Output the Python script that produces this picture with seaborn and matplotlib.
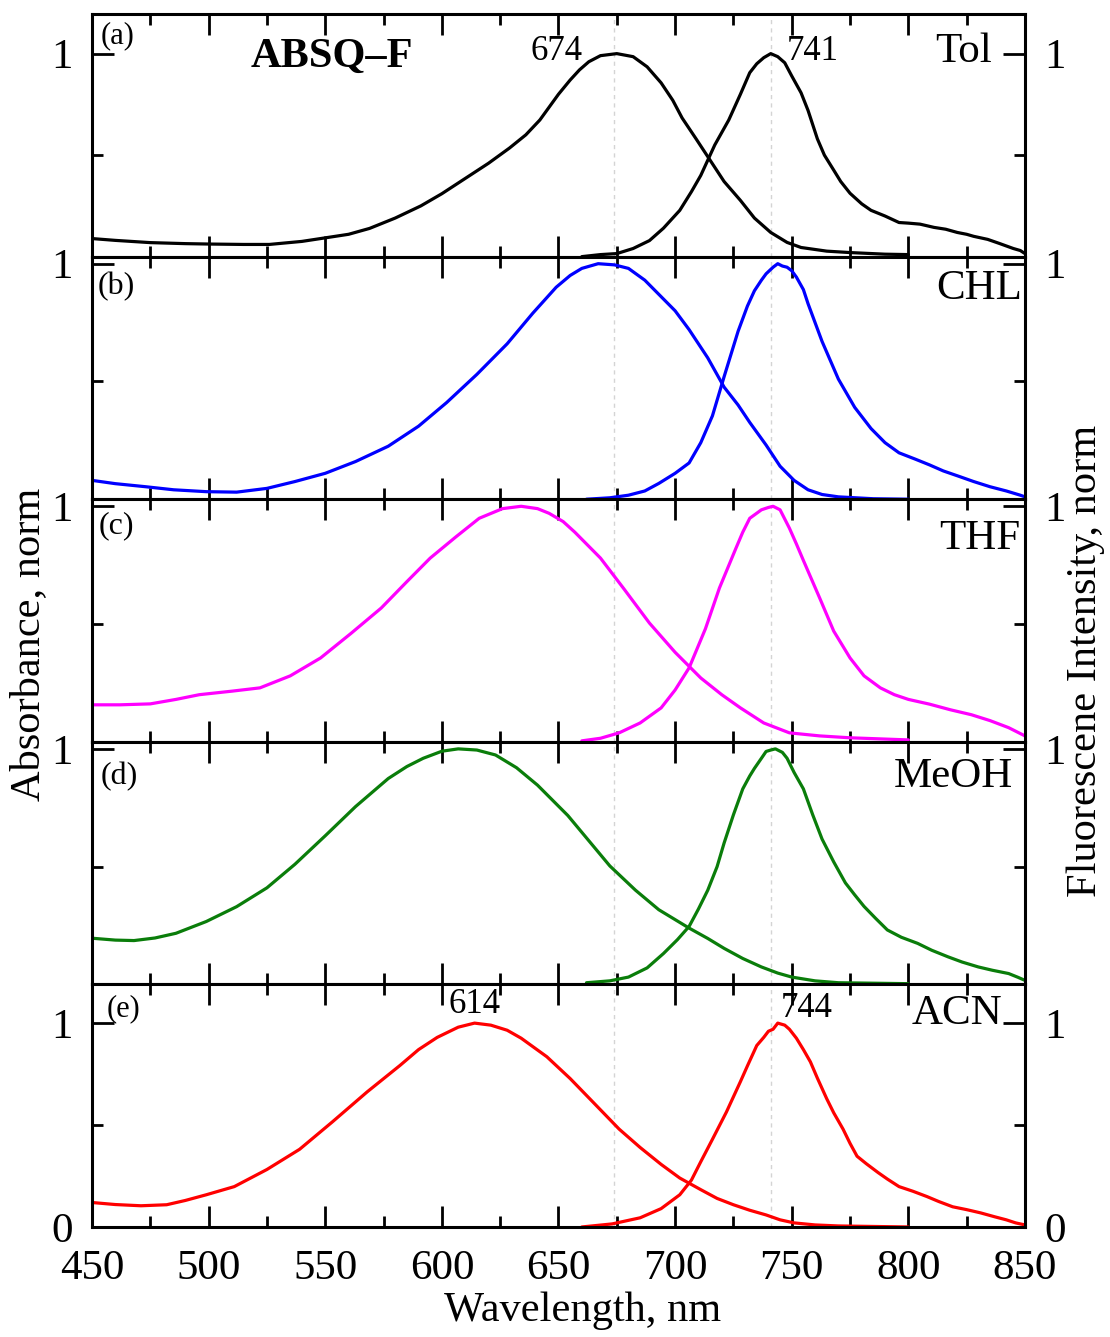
import matplotlib
matplotlib.use("Agg")
import matplotlib.pyplot as plt
from matplotlib.ticker import MultipleLocator, FixedLocator
import seaborn as sns
import pandas as pd

# ---- spectra (wavelength in nm, normalised intensity) ----
tol_abs_nm = [450, 460, 475, 490, 500, 515, 526, 540, 548, 560, 569, 580, 591, 600, 612, 620, 629, 636, 642, 650, 655, 659, 663, 668, 675, 682, 688, 694, 699, 703, 709, 715, 721, 728, 734, 741, 748, 754, 765, 775, 790, 800]
tol_abs = [0.089, 0.08, 0.069, 0.064, 0.062, 0.06, 0.06, 0.075, 0.089, 0.11, 0.139, 0.19, 0.25, 0.31, 0.40, 0.46, 0.535, 0.60, 0.673, 0.80, 0.87, 0.92, 0.96, 0.99, 1.0, 0.985, 0.935, 0.856, 0.77, 0.683, 0.58, 0.475, 0.37, 0.277, 0.19, 0.119, 0.07, 0.045, 0.027, 0.02, 0.012, 0.01]
tol_fl_nm = [660, 668, 675, 682, 689, 695, 702, 707, 711, 717, 723, 728, 732, 735, 738, 741, 744, 747, 750, 754, 757, 761, 764, 768, 771, 775, 780, 784, 790, 796, 800, 805, 811, 816, 821, 825, 828, 834, 839, 845, 848, 850]
tol_fl = [0.0, 0.01, 0.015, 0.04, 0.079, 0.14, 0.228, 0.32, 0.40, 0.55, 0.673, 0.80, 0.906, 0.95, 0.98, 1.0, 0.985, 0.955, 0.89, 0.807, 0.72, 0.58, 0.50, 0.426, 0.37, 0.312, 0.26, 0.228, 0.20, 0.168, 0.165, 0.16, 0.144, 0.135, 0.119, 0.11, 0.10, 0.085, 0.065, 0.04, 0.03, 0.015]

chl_abs_nm = [450, 460, 473, 485, 499, 512, 525, 537, 550, 563, 577, 590, 602, 615, 628, 639, 649, 655, 660, 667, 674, 680, 687, 693, 700, 706, 714, 721, 727, 732, 739, 745, 751, 757, 763, 770, 785, 800]
chl_abs = [0.08, 0.066, 0.053, 0.04, 0.032, 0.03, 0.046, 0.075, 0.11, 0.16, 0.225, 0.31, 0.41, 0.53, 0.66, 0.79, 0.90, 0.95, 0.98, 1.0, 0.995, 0.98, 0.93, 0.87, 0.80, 0.72, 0.60, 0.476, 0.40, 0.326, 0.23, 0.14, 0.08, 0.04, 0.02, 0.01, 0.002, 0.0]
chl_fl_nm = [662, 672, 680, 687, 693, 700, 706, 711, 716, 721, 727, 731, 734, 737, 739, 742, 744, 746, 748, 750, 752, 755, 757, 763, 770, 777, 784, 790, 796, 803, 809, 815, 822, 828, 835, 842, 848, 850]
chl_fl = [0.0, 0.006, 0.017, 0.035, 0.067, 0.11, 0.154, 0.24, 0.354, 0.52, 0.713, 0.82, 0.885, 0.93, 0.957, 0.985, 1.0, 0.99, 0.985, 0.97, 0.943, 0.89, 0.83, 0.67, 0.51, 0.39, 0.30, 0.24, 0.197, 0.17, 0.146, 0.12, 0.096, 0.075, 0.053, 0.035, 0.017, 0.01]

thf_abs_nm = [450, 462, 475, 486, 496, 510, 522, 535, 548, 561, 574, 585, 595, 606, 616, 626, 634, 641, 646, 652, 657, 668, 678, 689, 700, 711, 720, 728, 738, 749, 762, 775, 800]
thf_abs = [0.157, 0.157, 0.161, 0.18, 0.2, 0.215, 0.229, 0.28, 0.356, 0.46, 0.568, 0.68, 0.78, 0.87, 0.949, 0.99, 1.0, 0.99, 0.97, 0.935, 0.89, 0.78, 0.65, 0.504, 0.38, 0.271, 0.2, 0.144, 0.08, 0.038, 0.025, 0.017, 0.008]
thf_fl_nm = [660, 668, 676, 685, 694, 700, 706, 713, 719, 726, 729, 732, 737, 740, 742, 745, 749, 752, 755, 762, 768, 775, 781, 788, 794, 800, 809, 818, 827, 835, 843, 850]
thf_fl = [0.004, 0.015, 0.038, 0.08, 0.144, 0.22, 0.314, 0.48, 0.653, 0.82, 0.89, 0.949, 0.985, 0.995, 1.0, 0.985, 0.907, 0.84, 0.77, 0.61, 0.47, 0.356, 0.28, 0.229, 0.20, 0.18, 0.16, 0.136, 0.115, 0.09, 0.06, 0.025]

meoh_abs_nm = [450, 460, 468, 477, 486, 499, 512, 525, 537, 550, 563, 577, 585, 592, 600, 607, 615, 623, 632, 641, 654, 663, 672, 683, 693, 706, 714, 721, 729, 737, 744, 750, 760, 770, 800]
meoh_abs = [0.196, 0.188, 0.186, 0.197, 0.217, 0.267, 0.33, 0.41, 0.51, 0.631, 0.755, 0.874, 0.925, 0.96, 0.99, 1.0, 0.995, 0.974, 0.92, 0.846, 0.717, 0.61, 0.503, 0.40, 0.317, 0.239, 0.195, 0.153, 0.11, 0.074, 0.048, 0.031, 0.015, 0.007, 0.003]
meoh_fl_nm = [662, 672, 680, 688, 695, 701, 706, 710, 714, 718, 721, 725, 729, 732, 734, 737, 739, 741, 743, 746, 748, 751, 755, 759, 763, 768, 773, 777, 781, 786, 791, 797, 804, 810, 817, 823, 830, 836, 843, 847, 850]
meoh_fl = [0.007, 0.015, 0.031, 0.07, 0.131, 0.19, 0.246, 0.32, 0.40, 0.50, 0.60, 0.72, 0.83, 0.885, 0.917, 0.96, 0.989, 0.995, 1.0, 0.985, 0.96, 0.90, 0.83, 0.72, 0.617, 0.52, 0.431, 0.38, 0.331, 0.28, 0.231, 0.2, 0.174, 0.145, 0.117, 0.095, 0.074, 0.06, 0.046, 0.03, 0.017]

acn_abs_nm = [450, 460, 471, 482, 490, 499, 511, 525, 539, 553, 568, 582, 590, 598, 607, 614, 621, 628, 634, 645, 655, 665, 676, 685, 694, 702, 711, 718, 725, 732, 739, 745, 751, 760, 770, 800]
acn_abs = [0.12, 0.11, 0.104, 0.109, 0.13, 0.158, 0.198, 0.282, 0.381, 0.515, 0.663, 0.792, 0.87, 0.93, 0.98, 1.0, 0.99, 0.965, 0.926, 0.835, 0.728, 0.61, 0.48, 0.39, 0.307, 0.24, 0.183, 0.14, 0.109, 0.082, 0.059, 0.035, 0.02, 0.01, 0.005, 0.0]
acn_fl_nm = [660, 673, 685, 694, 702, 707, 711, 716, 722, 728, 731, 735, 738, 740, 742, 744, 747, 749, 752, 755, 758, 761, 765, 768, 772, 775, 778, 782, 787, 791, 796, 802, 808, 813, 819, 825, 831, 837, 842, 846, 850]
acn_fl = [0.0, 0.015, 0.045, 0.09, 0.158, 0.23, 0.32, 0.43, 0.564, 0.713, 0.79, 0.89, 0.93, 0.96, 0.97, 1.0, 0.99, 0.97, 0.926, 0.87, 0.81, 0.73, 0.629, 0.56, 0.48, 0.41, 0.347, 0.31, 0.267, 0.235, 0.198, 0.175, 0.149, 0.125, 0.099, 0.085, 0.069, 0.05, 0.035, 0.02, 0.01]

solvents = ["Tol", "CHL", "THF", "MeOH", "ACN"]
panel_tags = ["(a)", "(b)", "(c)", "(d)", "(e)"]
colors = ["#000000", "#0000ff", "#ff00ff", "#0a7d0a", "#ff0000"]
abs_nm_sets = [tol_abs_nm, chl_abs_nm, thf_abs_nm, meoh_abs_nm, acn_abs_nm]
abs_sets = [tol_abs, chl_abs, thf_abs, meoh_abs, acn_abs]
fl_nm_sets = [tol_fl_nm, chl_fl_nm, thf_fl_nm, meoh_fl_nm, acn_fl_nm]
fl_sets = [tol_fl, chl_fl, thf_fl, meoh_fl, acn_fl]
y_tops = [1.195, 1.03, 1.03, 1.03, 1.19]
guide_nm = [674, 741]
x_ticks = [450, 500, 550, 600, 650, 700, 750, 800, 850]

sns.set_style("ticks")
plt.rcParams["font.family"] = ["Liberation Serif", "DejaVu Serif"]
plt.rcParams.update({
    "axes.edgecolor": "black",
    "xtick.color": "black",
    "ytick.color": "black",
    "text.color": "black",
    "axes.labelcolor": "black",
})

fig, axes = plt.subplots(5, 1, figsize=(11.10, 13.37), dpi=100, sharex=True)
fig.subplots_adjust(left=0.0829, right=0.9234, top=0.9895, bottom=0.0823, hspace=0)

tag_pos = [(0.009, 0.91), (0.006, 0.876), (0.007, 0.889), (0.009, 0.856), (0.016, 0.90)]
solv_pos = [(0.9646, 0.844), (0.997, 0.868), (0.995, 0.835), (0.987, 0.856), (0.976, 0.88)]

for i, ax in enumerate(axes):
    for g in guide_nm:
        ax.axvline(g, color="#d4d4d4", lw=1.0, ls=(0, (3, 3)), zorder=0)
    df_a = pd.DataFrame({"nm": abs_nm_sets[i], "val": abs_sets[i]})
    df_f = pd.DataFrame({"nm": fl_nm_sets[i], "val": fl_sets[i]})
    sns.lineplot(data=df_a, x="nm", y="val", ax=ax, color=colors[i], lw=2.3, sort=False)
    sns.lineplot(data=df_f, x="nm", y="val", ax=ax, color=colors[i], lw=2.3, sort=False)

    ax.set_xlim(450, 850)
    ax.set_ylim(0, y_tops[i])
    ax.set_xlabel("")
    ax.set_ylabel("")
    for s in ax.spines.values():
        s.set_linewidth(2.2)
        s.set_color("black")
        s.set_visible(True)

    if i == 4:
        ax.yaxis.set_major_locator(FixedLocator([0, 1]))
    else:
        ax.yaxis.set_major_locator(FixedLocator([1]))
    ax.yaxis.set_minor_locator(FixedLocator([0.5]))
    ax.xaxis.set_major_locator(FixedLocator(x_ticks))
    ax.xaxis.set_minor_locator(MultipleLocator(25))

    ax.tick_params(axis="both", which="both", direction="in", top=True, bottom=True,
                   left=True, right=True, width=2.0, labelsize=31, colors="black")
    ax.tick_params(axis="x", which="major", length=15, pad=16)
    ax.tick_params(axis="x", which="minor", length=8)
    ax.tick_params(axis="y", which="major", length=16, pad=14, labelleft=True, labelright=True)
    ax.tick_params(axis="y", which="minor", length=8)
    ax.set_yticklabels(["0", "1"] if i == 4 else ["1"])
    if i < 4:
        ax.tick_params(axis="x", labelbottom=False)

    ax.text(tag_pos[i][0], tag_pos[i][1], panel_tags[i], transform=ax.transAxes,
            fontsize=23 if i in (1, 2, 3) else 22, ha="left", va="center")
    ax.text(solv_pos[i][0], solv_pos[i][1], solvents[i], transform=ax.transAxes,
            fontsize=31, ha="right", va="center")

axes[4].set_xticklabels([str(t) for t in x_ticks])

# peak annotations
axes[0].text(553, 0.985, "ABSQ–F", fontsize=30.5, fontweight="bold", ha="center", va="center")
axes[0].text(649, 1.01, "674", fontsize=25, ha="center", va="center")
axes[0].text(759, 1.01, "741", fontsize=25, ha="center", va="center")
axes[4].text(614, 1.09, "614", fontsize=25, ha="center", va="center")
axes[4].text(756.5, 1.074, "744", fontsize=25, ha="center", va="center")

fig.text(0.525, 0.0195, "Wavelength, nm", fontsize=30.5, ha="center", va="center")
fig.text(0.026, 0.518, "Absorbance, norm", fontsize=30.5, rotation=90, ha="center", va="center")
fig.text(0.978, 0.506, "Fluorescene Intensity, norm", fontsize=30.5, rotation=90, ha="center", va="center")

fig.savefig("out.png", dpi=100)
